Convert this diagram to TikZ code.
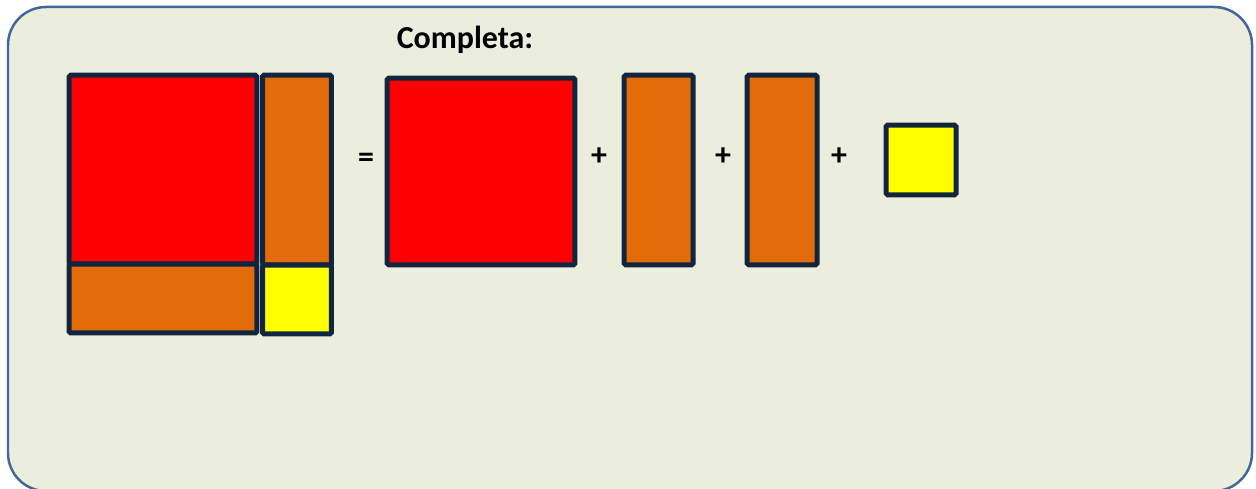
\documentclass[tikz,border=0pt]{standalone}
\usepackage{fontspec}
\setmainfont{Carlito}
\usepackage{tikz}
\usetikzlibrary{positioning}

\definecolor{panelfill}{HTML}{EBEEDD}
\definecolor{panelline}{HTML}{44679A}
\definecolor{tileline}{HTML}{12253E}
\definecolor{tilered}{HTML}{FF0000}
\definecolor{tileorange}{HTML}{E26B0A}
\definecolor{tileyellow}{HTML}{FFFF00}

\begin{document}
\begin{tikzpicture}[
  x=0.02cm, y=-0.02cm,
  every node/.style = {font=\fontsize{18.2}{22}\selectfont\bfseries},
  tile/.style   = {rectangle, rounded corners=1pt, inner sep=0pt,
                   draw=tileline, line width=0.1cm, fill=#1},
  bigsq/.style  = {tile=tilered, minimum width=3.76cm, minimum height=3.78cm},
  vbar/.style   = {tile=tileorange, minimum width=1.38cm, minimum height=3.8cm},
  hbar/.style   = {tile=tileorange, minimum width=3.76cm, minimum height=1.38cm},
  unitsq/.style = {tile=tileyellow, minimum width=1.38cm, minimum height=1.38cm},
  sign/.style   = {inner sep=0pt},
]

\useasboundingbox (0,0) rectangle (1256,489);

%% ── Panel ────────────────────────────────────────────────────────────────
\draw[panelline, fill=panelfill, line width=0.05cm, rounded corners=0.76cm]
  (8,7) rectangle (1252,491);

\node at (465,40) (title) {Completa:};

%% ── Assembled square ─────────────────────────────────────────────────────
\node[bigsq]  at (163,169.5) (bigred)   {};
\node[vbar]   at (297,170)   (sidebar)  {};
\node[hbar]   at (163,298.5) (lowbar)   {};
\node[unitsq] at (297,299.5) (corner)   {};

%% ── Pieces ───────────────────────────────────────────────────────────────
\node[sign]   at (366,160)   (equals) {=};
\node[bigsq, minimum height=3.74cm] at (481,171.5) (red) {};
\node[sign]   at (599,157)   (plusA)  {+};
\node[vbar]   at (658.5,170) (barA)   {};
\node[sign]   at (723,157)   (plusB)  {+};
\node[vbar, minimum width=1.4cm] at (782,170) (barB) {};
\node[sign]   at (839,157)   (plusC)  {+};
\node[unitsq, minimum width=1.4cm, minimum height=1.4cm]
              at (921,160)   (unit)   {};

\end{tikzpicture}
\end{document}
